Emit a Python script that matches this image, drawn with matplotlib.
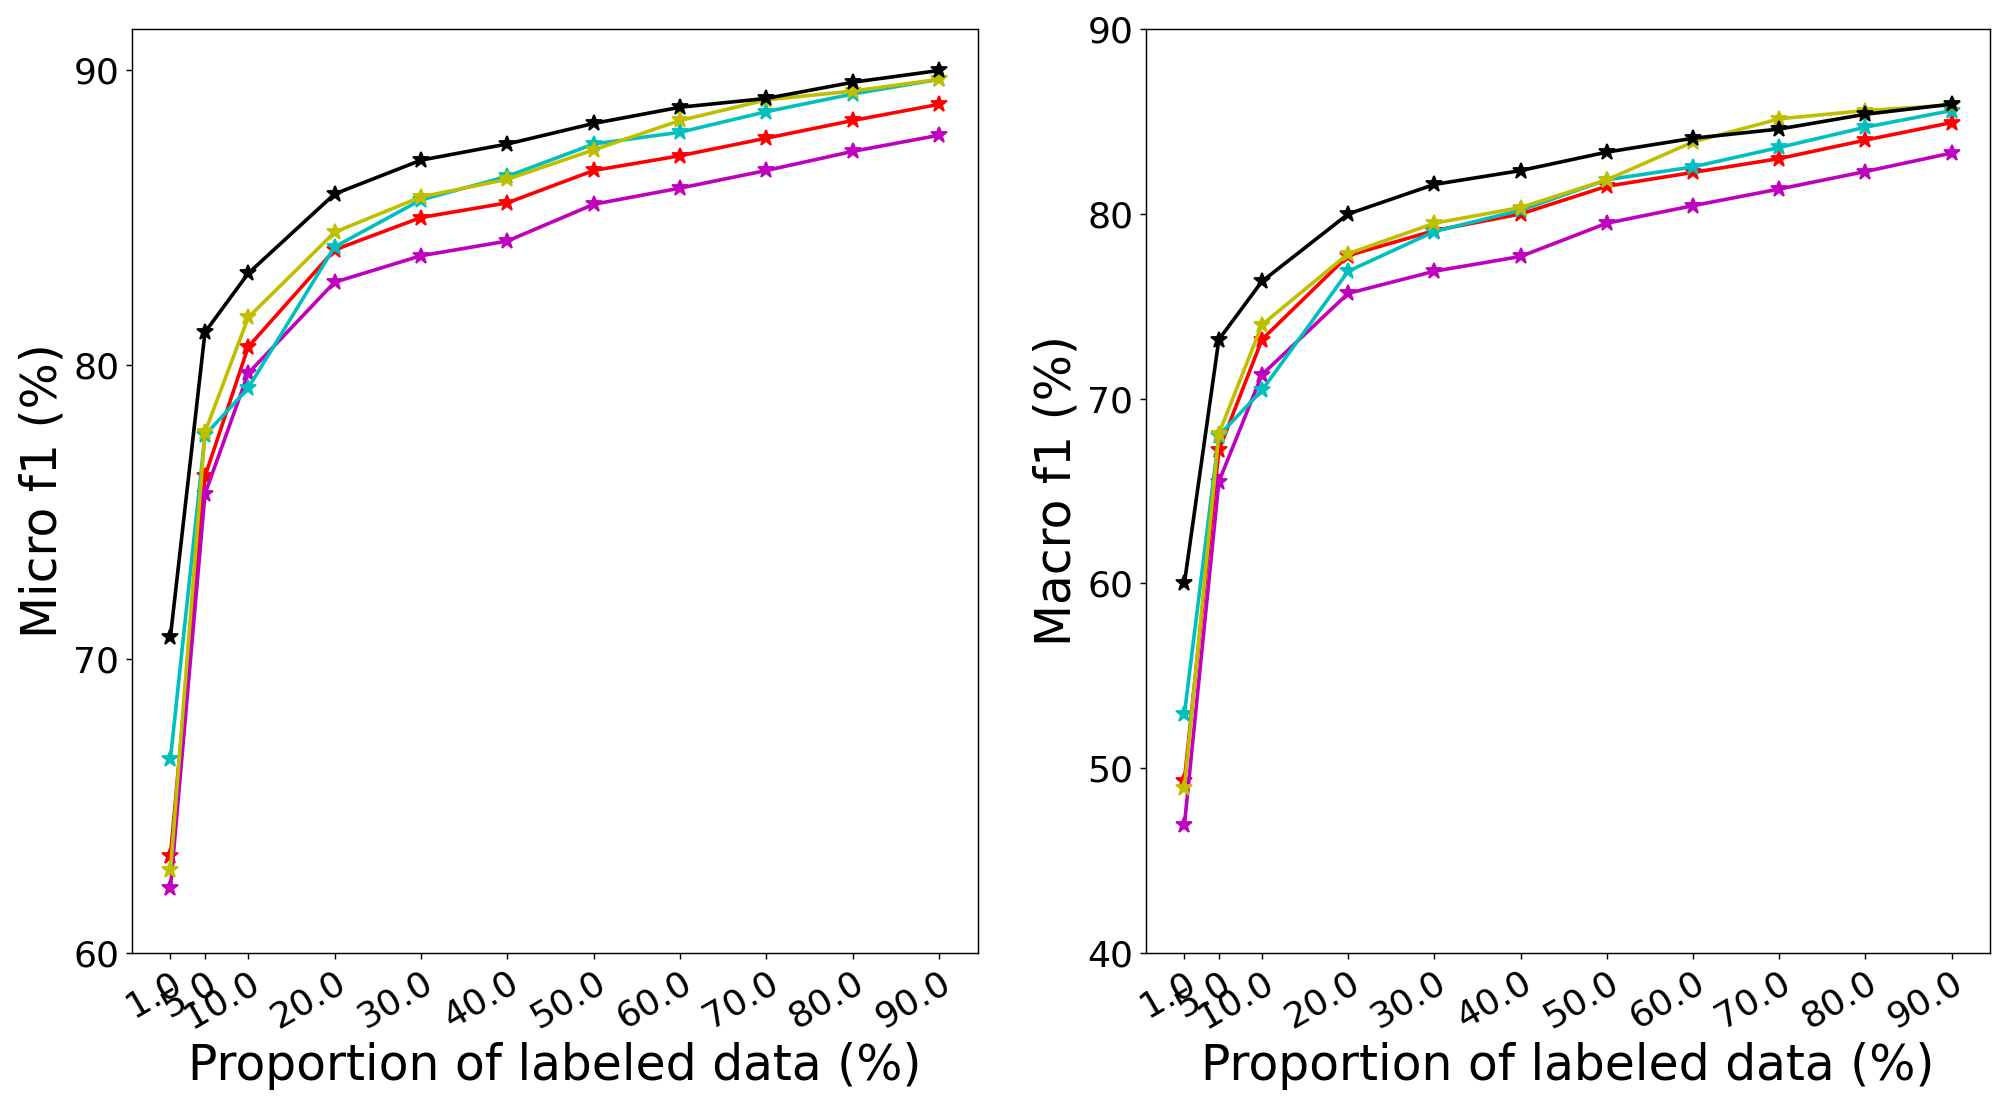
"""Micro / Macro f1 against the proportion of labeled data, two panels."""
import matplotlib
matplotlib.use("Agg")
import matplotlib.pyplot as plt

plt.rcParams.update({"font.size": 20})

proportions = [1, 5, 10, 20, 30, 40, 50, 60, 70, 80, 90]
tick_labels = ["1.0", "5.0", "10.0", "20.0", "30.0", "40.0", "50.0",
               "60.0", "70.0", "80.0", "90.0"]

# micro f1 (left panel)
micro_red = [63.3, 76.2, 80.6, 83.9, 85.0, 85.5, 86.6, 87.1, 87.7, 88.3, 88.85]
micro_magenta = [62.2, 75.6, 79.7, 82.8, 83.7, 84.2, 85.45, 86.0, 86.6, 87.25, 87.8]
micro_cyan = [66.6, 77.6, 79.2, 84.0, 85.6, 86.4, 87.5, 87.9, 88.6, 89.2, 89.7]
micro_yellow = [62.8, 77.7, 81.6, 84.5, 85.7, 86.3, 87.3, 88.3, 89.0, 89.3, 89.7]
micro_black = [70.75, 81.1, 83.1, 85.8, 86.95, 87.5, 88.2, 88.75, 89.05, 89.6, 90.0]

# macro f1 (right panel)
macro_red = [49.3, 67.2, 73.2, 77.75, 79.1, 80.0, 81.5, 82.25, 83.0, 84.0, 84.95]
macro_magenta = [46.9, 65.5, 71.3, 75.7, 76.9, 77.7, 79.5, 80.45, 81.35, 82.3, 83.3]
macro_cyan = [52.9, 68.0, 70.45, 76.9, 79.05, 80.2, 81.85, 82.55, 83.6, 84.7, 85.6]
macro_yellow = [48.9, 68.1, 74.0, 77.85, 79.5, 80.35, 81.85, 83.9, 85.15, 85.6, 85.9]
macro_black = [60.0, 73.2, 76.35, 80.0, 81.6, 82.35, 83.35, 84.1, 84.6, 85.4, 85.95]

COLORS = ["r", "m", "c", "y", "k"]

W, H = 2015, 1111
fig = plt.figure(figsize=(W / 130, H / 130), dpi=130)
ax1 = fig.add_axes([132 / W, 1 - 952.7 / H, 845.7 / W, 923.4 / H])
ax2 = fig.add_axes([1146 / W, 1 - 952.7 / H, 844 / W, 923.4 / H])

panels = [
    (ax1, [micro_red, micro_magenta, micro_cyan, micro_yellow, micro_black],
     "Micro f1 (%)", (60, 91.4), [60, 70, 80, 90]),
    (ax2, [macro_red, macro_magenta, macro_cyan, macro_yellow, macro_black],
     "Macro f1 (%)", (40, 90), [40, 50, 60, 70, 80, 90]),
]

for ax, series, ylabel, ylim, yticks in panels:
    for vals, c in zip(series, COLORS):
        ax.plot(proportions, vals, color=c, marker="*", markersize=9, lw=2)
    ax.set_ylim(*ylim)
    ax.set_yticks(yticks)
    ax.set_xticks(proportions)
    ax.set_xticklabels(tick_labels, rotation=30, ha="right",
                       rotation_mode="anchor")
    ax.set_xlabel("Proportion of labeled data (%)", fontsize=27)
    ax.set_ylabel(ylabel, fontsize=27)

fig.savefig("out.png", dpi=130)
